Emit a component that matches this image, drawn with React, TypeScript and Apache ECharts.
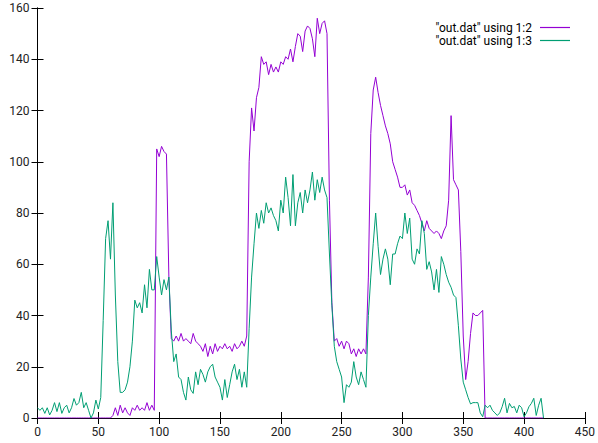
import React, { useEffect, useRef } from "react";
import * as echarts from "echarts";

// x grid: 0, 2, 4, ... 416
const X_START = 0;
const X_STEP = 2;

const seriesNames = ['"out.dat" using 1:2', '"out.dat" using 1:3'];

// column 2 (purple)
const col2: number[] = [
  0, 0, 0, 0, 0, 0, 0, 0, 0, 0,
  0, 0, 0, 0, 0, 0, 0, 0, 0, 0,
  0, 0, 0, 0, 0, 0, 0, 0, 0, 0,
  0, 1, 4, 1, 5, 2, 4, 2, 1, 4,
  3, 5, 3, 4, 3, 6, 3, 5, 3, 105,
  102, 106, 104, 103, 55, 31, 30, 32, 30, 33,
  30, 31, 30, 29, 33, 30, 29, 28, 26, 29,
  24, 28, 25, 29, 26, 28, 27, 29, 27, 28,
  26, 29, 27, 28, 30, 28, 32, 100, 121, 112,
  125, 129, 141, 138, 139, 134, 138, 135, 137, 135,
  139, 138, 141, 140, 144, 139, 145, 150, 149, 143,
  151, 153, 152, 148, 141, 156, 150, 154, 155, 150,
  85, 45, 30, 31, 28, 30, 27, 30, 29, 25,
  27, 24, 27, 25, 27, 25, 55, 111, 128, 133,
  127, 122, 118, 114, 111, 107, 100, 97, 94, 90,
  90, 91, 87, 89, 84, 83, 81, 79, 76, 73,
  77, 74, 73, 72, 73, 72, 70, 73, 75, 85,
  118, 93, 91, 89, 65, 32, 15, 22, 33, 41,
  40, 40, 41, 42, 0, 0, 0, 0, 0, 0,
  0, 0, 0, 0, 0, 0, 0, 0, 0, 0,
  0, 0, 0, 0, 0, 0, 0, 0, 0,
];

// column 3 (green)
const col3: number[] = [
  4, 3, 4, 1.8, 4, 1.2, 3, 6, 2.5, 6,
  1.8, 4, 5, 2, 4, 7.6, 5, 6, 10, 4,
  6, 3, 0, 2, 7, 3.5, 8, 38, 70, 77,
  62, 84, 48, 22, 10, 10, 11, 14, 20, 30,
  46, 43, 45, 41, 52, 43, 58, 50, 50, 63,
  55, 48, 54, 50, 55, 34, 22, 25, 16, 15,
  10, 7, 16, 11, 9.6, 18, 13, 19, 17, 14,
  18, 20, 21, 16, 14, 12, 7, 15, 8, 13,
  18, 21, 15, 19, 12, 18, 12, 35, 55, 68,
  80, 74, 81, 76, 84, 80, 82, 79, 77, 73,
  85, 80, 94, 86, 75, 95, 75, 84, 88, 80,
  89, 84, 89, 96, 85, 93, 88, 94, 89, 86,
  64, 44, 28, 22, 19, 16, 6, 13, 12, 14,
  22, 16, 13, 18, 15, 12, 40, 55, 68, 80,
  67, 56, 62, 66, 62, 52, 64, 64, 68, 71,
  70, 80, 72, 78, 62, 60, 66, 64, 77, 72,
  58, 61, 57, 50, 58, 49, 63, 60, 56, 53,
  51, 48, 47, 36, 23, 14, 11, 8, 5.5, 6,
  6, 6, 2, 0.5, 5, 4, 5, 3, 2, 1,
  2, 4.4, 7.7, 2, 5.7, 4, 4.5, 2, 5, 4,
  0.5, 2, 4.4, 5.7, 7.7, 1, 5, 7.7, 0,
];

const colors = ["#9400D3", "#009E73"];

const toPairs = (vals: number[]) =>
  vals.map((v, i) => [X_START + i * X_STEP, v]);

export default function App() {
  const ref = useRef<HTMLDivElement>(null);
  useEffect(() => {
    if (!ref.current) return;
    const chart = echarts.init(ref.current, null, { renderer: "svg" });
    const font = "Roboto, 'Noto Sans', sans-serif";
    const axisLine = { show: true, lineStyle: { color: "#000", width: 1 } };
    const tick = { show: true, inside: true, length: 6, lineStyle: { color: "#000", width: 1 } };
    const label = { color: "#222", fontSize: 12, fontFamily: font };
    chart.setOption({
      animation: false,
      backgroundColor: "#fff",
      grid: { left: 37.5, right: 13, top: 8, bottom: 25, containLabel: false },
      legend: {
        show: true,
        orient: "vertical",
        align: "right",
        right: 23,
        top: 16,
        icon: "rect",
        itemWidth: 30,
        itemHeight: 1.2,
        itemGap: 0,
        textStyle: { color: "#000", fontSize: 12, fontFamily: font, lineHeight: 13, padding: [0, 3, 0, 0] },
        data: seriesNames,
      },
      xAxis: [
        {
          type: "value", min: 0, max: 450, interval: 50, position: "bottom",
          axisLine, axisTick: tick, axisLabel: { ...label, margin: 8 },
          splitLine: { show: false },
        },
        {
          type: "value", min: 0, max: 450, interval: 50, position: "top",
          axisLine, axisTick: tick, axisLabel: { show: false },
          splitLine: { show: false },
        },
      ],
      yAxis: [
        {
          type: "value", min: 0, max: 160, interval: 20, position: "left",
          axisLine, axisTick: tick, axisLabel: { ...label, margin: 8 },
          splitLine: { show: false },
        },
        {
          type: "value", min: 0, max: 160, interval: 20, position: "right",
          axisLine, axisTick: tick, axisLabel: { show: false },
          splitLine: { show: false },
        },
      ],
      series: [col2, col3].map((vals, i) => ({
        name: seriesNames[i],
        type: "line",
        xAxisIndex: 0,
        yAxisIndex: 0,
        data: toPairs(vals),
        symbol: "none",
        showSymbol: false,
        lineStyle: { color: colors[i], width: 1 },
        itemStyle: { color: colors[i] },
        z: 2 + i,
      })),
    });
    return () => chart.dispose();
  }, []);
  return (
    <div
      ref={ref}
      style={{ position: "fixed", left: 0, top: 0, width: 598, height: 443, background: "#fff" }}
    />
  );
}
